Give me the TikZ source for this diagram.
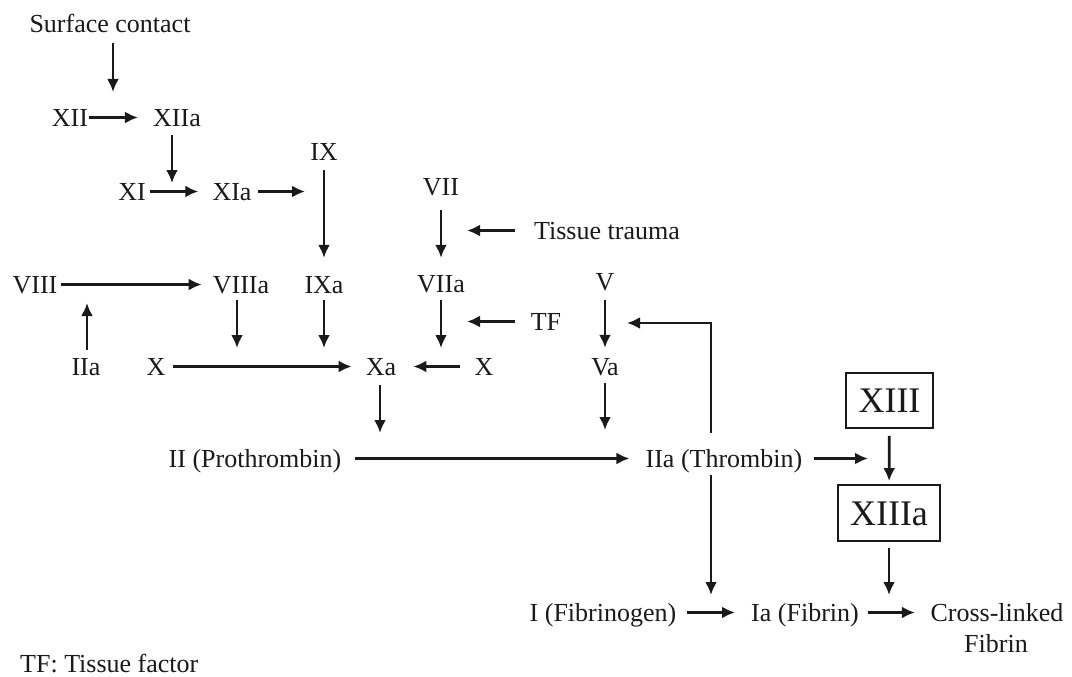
\documentclass[tikz,border=0pt]{standalone}
\usepackage{fontspec}
\setmainfont{Liberation Serif}
\usetikzlibrary{arrows.meta}
\definecolor{ink}{HTML}{1A1A1A}
\begin{document}
\begin{tikzpicture}[x=1pt,y=-1pt,
  lbl/.style={anchor=base, inner sep=0pt, text height=17pt, text depth=0pt,
    font=\fontsize{26}{30}\selectfont, text=ink},
  boxn/.style={draw=ink, line width=1.8pt, inner sep=0pt, text height=24pt, text depth=0pt,
    font=\fontsize{36}{40}\selectfont, text=ink},
  arr/.style={draw=ink, line width=2.7pt, -{Latex[length=13pt,width=12pt]}}]
\useasboundingbox[fill=white] (0,0) rectangle (1072,677);

% nodes
\node[lbl] (SC) at (110,33) {Surface contact};
\node[lbl] (XII) at (70,126) {XII};
\node[lbl] (XIIa) at (177,126) {XIIa};
\node[lbl] (IX) at (324,160) {IX};
\node[lbl] (XI) at (132,200) {XI};
\node[lbl] (XIa) at (232,200) {XIa};
\node[lbl] (VII) at (441,195) {VII};
\node[lbl] (TT) at (607,239) {Tissue trauma};
\node[lbl] (VIII) at (35,293) {VIII};
\node[lbl] (VIIIa) at (241,293) {VIIIa};
\node[lbl] (IXa) at (324,293) {IXa};
\node[lbl] (VIIa) at (441,292) {VIIa};
\node[lbl] (V) at (605,290) {V};
\node[lbl] (TF) at (546,330) {TF};
\node[lbl] (IIaL) at (86,375) {IIa};
\node[lbl] (XL) at (156,375) {X};
\node[lbl] (Xa) at (381,375) {Xa};
\node[lbl] (XR) at (484,375) {X};
\node[lbl] (Va) at (605,375) {Va};
\node[lbl] (II) at (255,467) {II (Prothrombin)};
\node[lbl] (IIa) at (724,467) {IIa (Thrombin)};
\node[boxn, minimum width=87pt, minimum height=55pt] (XIII) at (889.5,400.5) {XIII};
\node[boxn, minimum width=102pt, minimum height=56pt] (XIIIa) at (889,513) {XIIIa};
\node[lbl] (I) at (603,621) {I (Fibrinogen)};
\node[lbl] (Ia) at (805,621) {Ia (Fibrin)};
\node[lbl] (CL) at (997,621) {Cross-linked};
\node[lbl] (CLb) at (996,652) {Fibrin};
\node[lbl, anchor=base west] (key) at (20,672) {TF: Tissue factor};

% free ends of connectors
\coordinate (tSC) at (113,92);
\coordinate (tXIIa) at (172,183);
\coordinate (tXIa) at (305,191.5);
\coordinate (tTT) at (467,230.5);
\coordinate (tIIaL) at (87,303);
\coordinate (tVIIIa) at (237,348);
\coordinate (tIXa) at (324,348);
\coordinate (tVIIa) at (441,348);
\coordinate (tTF) at (467,321.5);
\coordinate (tXa) at (380,433);
\coordinate (tVa) at (605,430);
\coordinate (tIIa) at (868,458.5);
\coordinate (fbc) at (711,323);
\coordinate (tfb) at (627,323);
\coordinate (tIIadown) at (711,595);
\coordinate (tXIIIa) at (889,595);

% connectors
\draw[arr, shorten <=10pt] (SC.south -| tSC) -- (tSC);
\draw[arr, shorten <=1pt, shorten >=15pt] (XII) -- (XIIa);
\draw[arr, shorten <=9pt] (XIIa.south -| tXIIa) -- (tXIIa);
\draw[arr, shorten <=4pt, shorten >=14pt] (XI) -- (XIa);
\draw[arr, shorten <=6pt] (XIa.east) -- (tXIa);
\draw[arr, shorten <=10pt, shorten >=18pt] (IX) -- (IXa);
\draw[arr, shorten <=15pt, shorten >=17pt] (VII) -- (VIIa);
\draw[arr, shorten <=19pt] (TT.west) -- (tTT);
\draw[arr, shorten <=3pt, shorten >=11pt] (VIII) -- (VIIIa);
\draw[arr, shorten <=8pt] (IIaL.north -| tIIaL) -- (tIIaL);
\draw[arr, shorten <=7pt] (VIIIa.south -| tVIIIa) -- (tVIIIa);
\draw[arr, shorten <=7pt] (IXa.south) -- (tIXa);
\draw[arr, shorten <=8pt] (VIIa.south) -- (tVIIa);
\draw[arr, shorten <=16pt] (TF.west) -- (tTF);
\draw[arr, shorten <=7.6pt, shorten >=14pt] (XL) -- (Xa);
\draw[arr, shorten <=14.6pt, shorten >=17pt] (XR) -- (Xa);
\draw[arr, shorten <=10pt, shorten >=10pt] (V) -- (Va);
\draw[arr, shorten <=8pt] (Va.south) -- (tVa);
\draw[arr, shorten <=10pt] (Xa.south -| tXa) -- (tXa);
\draw[arr, shorten <=14pt, shorten >=16pt] (II) -- (IIa);
\draw[arr, shorten <=11pt] (IIa.east) -- (tIIa);
\draw[arr, shorten <=7pt, shorten >=3pt] (XIII) -- (XIIIa);
\draw[arr, shorten <=6pt] (XIIIa.south) -- (tXIIIa);
\draw[arr, shorten <=8pt] (IIa.south -| tIIadown) -- (tIIadown);
\draw[arr, shorten <=17pt] (IIa.north -| fbc) -- (fbc) -- (tfb);
\draw[arr, shorten <=11pt, shorten >=16pt] (I) -- (Ia);
\draw[arr, shorten <=9pt, shorten >=15.5pt] (Ia) -- (CL);
\end{tikzpicture}
\end{document}
